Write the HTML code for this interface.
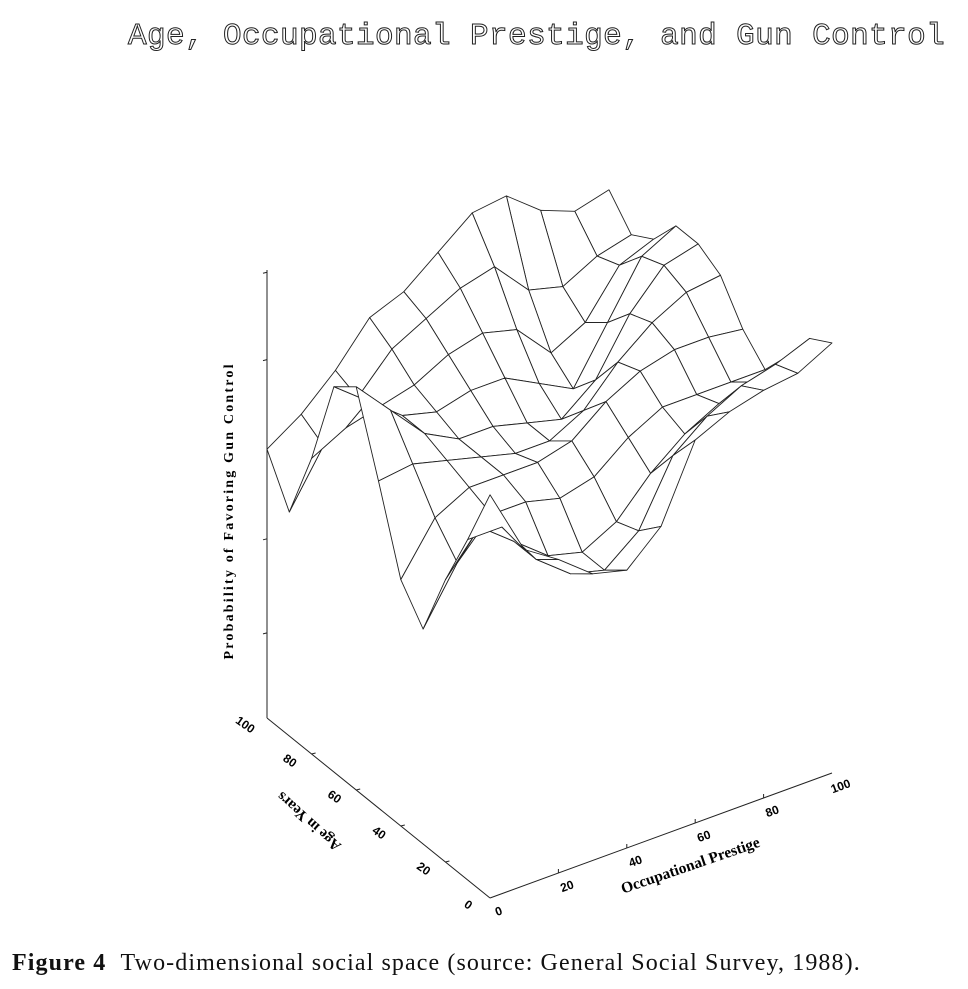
<!DOCTYPE html>
<html><head><meta charset="utf-8">
<style>
html,body{margin:0;padding:0;background:#fff;}
body{width:968px;height:989px;position:relative;overflow:hidden;font-family:"Liberation Serif",serif;}
#title{position:absolute;left:128px;top:19px;font-family:"Liberation Mono",monospace;font-size:31px;letter-spacing:0.4px;color:#fff;-webkit-text-stroke:1px #222;white-space:nowrap;}
#caption{position:absolute;left:12px;top:950px;font-size:24px;letter-spacing:1.1px;color:#111;white-space:nowrap;}
svg{position:absolute;left:0;top:0;}
</style></head>
<body>
<div id="title">Age, Occupational Prestige, and Gun Control</div>
<svg id="chart" width="968" height="989"></svg>
<div id="caption"><b>Figure 4</b>&nbsp;&nbsp;Two-dimensional social space (source: General Social Survey, 1988).</div>
<script>
// Data: z (probability, scaled 0..1 of axis height) on a grid of age (rows) x prestige (cols)
const ageValues = [0,10,20,30,40,50,60,70,80,90,100];
const prestigeValues = [0,10,20,30,40,50,60,70,80,90,100];
const zRowAge0   = [0.90,0.75,0.70,0.64,0.62,0.69,0.855,0.89,0.91,0.92,0.96];
const zRowAge10  = [0.76,0.76,0.66,0.60,0.58,0.64,0.78,0.84,0.88,0.90,0.93];
const zRowAge20  = [0.63,0.72,0.66,0.60,0.58,0.62,0.70,0.76,0.80,0.82,0.85];
const zRowAge30  = [0.48,0.60,0.68,0.68,0.66,0.68,0.74,0.78,0.78,0.78,0.78];
const zRowAge40  = [0.55,0.66,0.70,0.70,0.70,0.72,0.78,0.82,0.84,0.84,0.83];
const zRowAge50  = [0.73,0.74,0.72,0.70,0.68,0.68,0.72,0.80,0.86,0.90,0.91];
const zRowAge60  = [0.90,0.82,0.74,0.70,0.70,0.68,0.66,0.72,0.84,0.92,0.94];
const zRowAge70  = [0.86,0.80,0.74,0.72,0.74,0.74,0.70,0.66,0.78,0.90,0.94];
const zRowAge80  = [0.66,0.70,0.72,0.74,0.78,0.80,0.78,0.70,0.74,0.84,0.87];
const zRowAge90  = [0.50,0.62,0.70,0.78,0.82,0.86,0.88,0.80,0.78,0.82,0.84];
const zRowAge100 = [0.60,0.65,0.72,0.81,0.84,0.90,0.96,0.97,0.91,0.88,0.90];
const zGrid = [zRowAge0,zRowAge10,zRowAge20,zRowAge30,zRowAge40,zRowAge50,zRowAge60,zRowAge70,zRowAge80,zRowAge90,zRowAge100];
const ageTicks = [0,20,40,60,80,100];
const prestigeTicks = [0,20,40,60,80,100];
const zTicks = [0.19,0.4,0.8,0.995];

const NS="http://www.w3.org/2000/svg";
const svg=document.getElementById('chart');
const O={x:490,y:898}, PV={x:3.42,y:-1.25}, AV={x:-2.23,y:-1.8}, H=448;
function proj(a,p,z){return {x:O.x+p*PV.x+a*AV.x, y:O.y+p*PV.y+a*AV.y - z*H};}
function mk(tag,attrs){const el=document.createElementNS(NS,tag);for(const k in attrs)el.setAttribute(k,attrs[k]);svg.appendChild(el);return el;}

// axes
const zBase=proj(100,0,0), zTop=proj(100,0,1);
let e=mk('line',{x1:zBase.x,y1:zBase.y,x2:zTop.x,y2:zTop.y,stroke:'#222','stroke-width':1});


const a0=proj(0,0,0), a1=proj(100,0,0), p1=proj(0,100,0);
e=mk('line',{x1:a0.x,y1:a0.y,x2:a1.x,y2:a1.y,stroke:'#222','stroke-width':1});


e=mk('line',{x1:a0.x,y1:a0.y,x2:p1.x,y2:p1.y,stroke:'#222','stroke-width':1});



zTicks.forEach(t=>{const q=proj(100,0,t);
  const l=mk('line',{x1:q.x-4,y1:q.y+1,x2:q.x,y2:q.y,stroke:'#222'});
  
  });

ageTicks.forEach(t=>{const q=proj(t,0,0);
  if(t>0&&t<100){const l=mk('line',{x1:q.x,y1:q.y,x2:q.x+4,y2:q.y-1,stroke:'#222'});
  
  }
  const tx=mk('text',{x:q.x-24,y:q.y+10,'font-size':12,'font-weight':'bold','font-family':'Liberation Sans, sans-serif','text-anchor':'middle',transform:`rotate(35 ${q.x-24} ${q.y+10})`});
  tx.textContent=t;
  
  });

prestigeTicks.forEach(t=>{const q=proj(0,t,0);
  if(t>0&&t<100){const l=mk('line',{x1:q.x,y1:q.y,x2:q.x,y2:q.y-4,stroke:'#222'});
  
  }
  const tx=mk('text',{x:q.x+10,y:q.y+17,'font-size':12,'font-weight':'bold','font-family':'Liberation Sans, sans-serif','text-anchor':'middle',transform:`rotate(-20 ${q.x+10} ${q.y+17})`});
  tx.textContent=t;
  
  });

// axis titles
e=mk('text',{x:233,y:512,'font-size':14,'font-weight':'bold','font-family':'Liberation Serif, serif','text-anchor':'middle',textLength:295,lengthAdjust:'spacing',transform:'rotate(-90 233 512)'});
e.textContent='Probability of Favoring Gun Control';


e=mk('text',{x:312,y:818,'font-size':15,'font-weight':'bold','font-family':'Liberation Serif, serif','text-anchor':'middle',transform:'rotate(-138 312 818)'});
e.textContent='Age in Years';


e=mk('text',{x:692,y:870,'font-size':15.5,'font-weight':'bold','font-family':'Liberation Serif, serif','text-anchor':'middle',transform:'rotate(-19 692 870)'});
e.textContent='Occupational Prestige';



// surface quads, painter's order (far first)
const quads=[];
for(let i=0;i<ageValues.length-1;i++)for(let j=0;j<prestigeValues.length-1;j++){
  const am=(ageValues[i]+ageValues[i+1])/2, pm=(prestigeValues[j]+prestigeValues[j+1])/2;
  quads.push({i,j,d:proj(am,pm,0).y});
}
quads.sort((a,b)=>a.d-b.d);
const g=document.createElementNS(NS,'g');svg.appendChild(g);


quads.forEach(q=>{
  const {i,j}=q;
  const pts=[[i,j],[i,j+1],[i+1,j+1],[i+1,j]].map(([r,c])=>{const P=proj(ageValues[r],prestigeValues[c],zGrid[r][c]);return P.x.toFixed(1)+','+P.y.toFixed(1);}).join(' ');
  const pg=document.createElementNS(NS,'polygon');
  pg.setAttribute('points',pts);
  pg.setAttribute('fill','#fff');
  pg.setAttribute('stroke','#222');
  pg.setAttribute('stroke-width','0.9');
  pg.setAttribute('stroke-linejoin','round');
  
  
  g.appendChild(pg);
});
</script>
</body></html>
